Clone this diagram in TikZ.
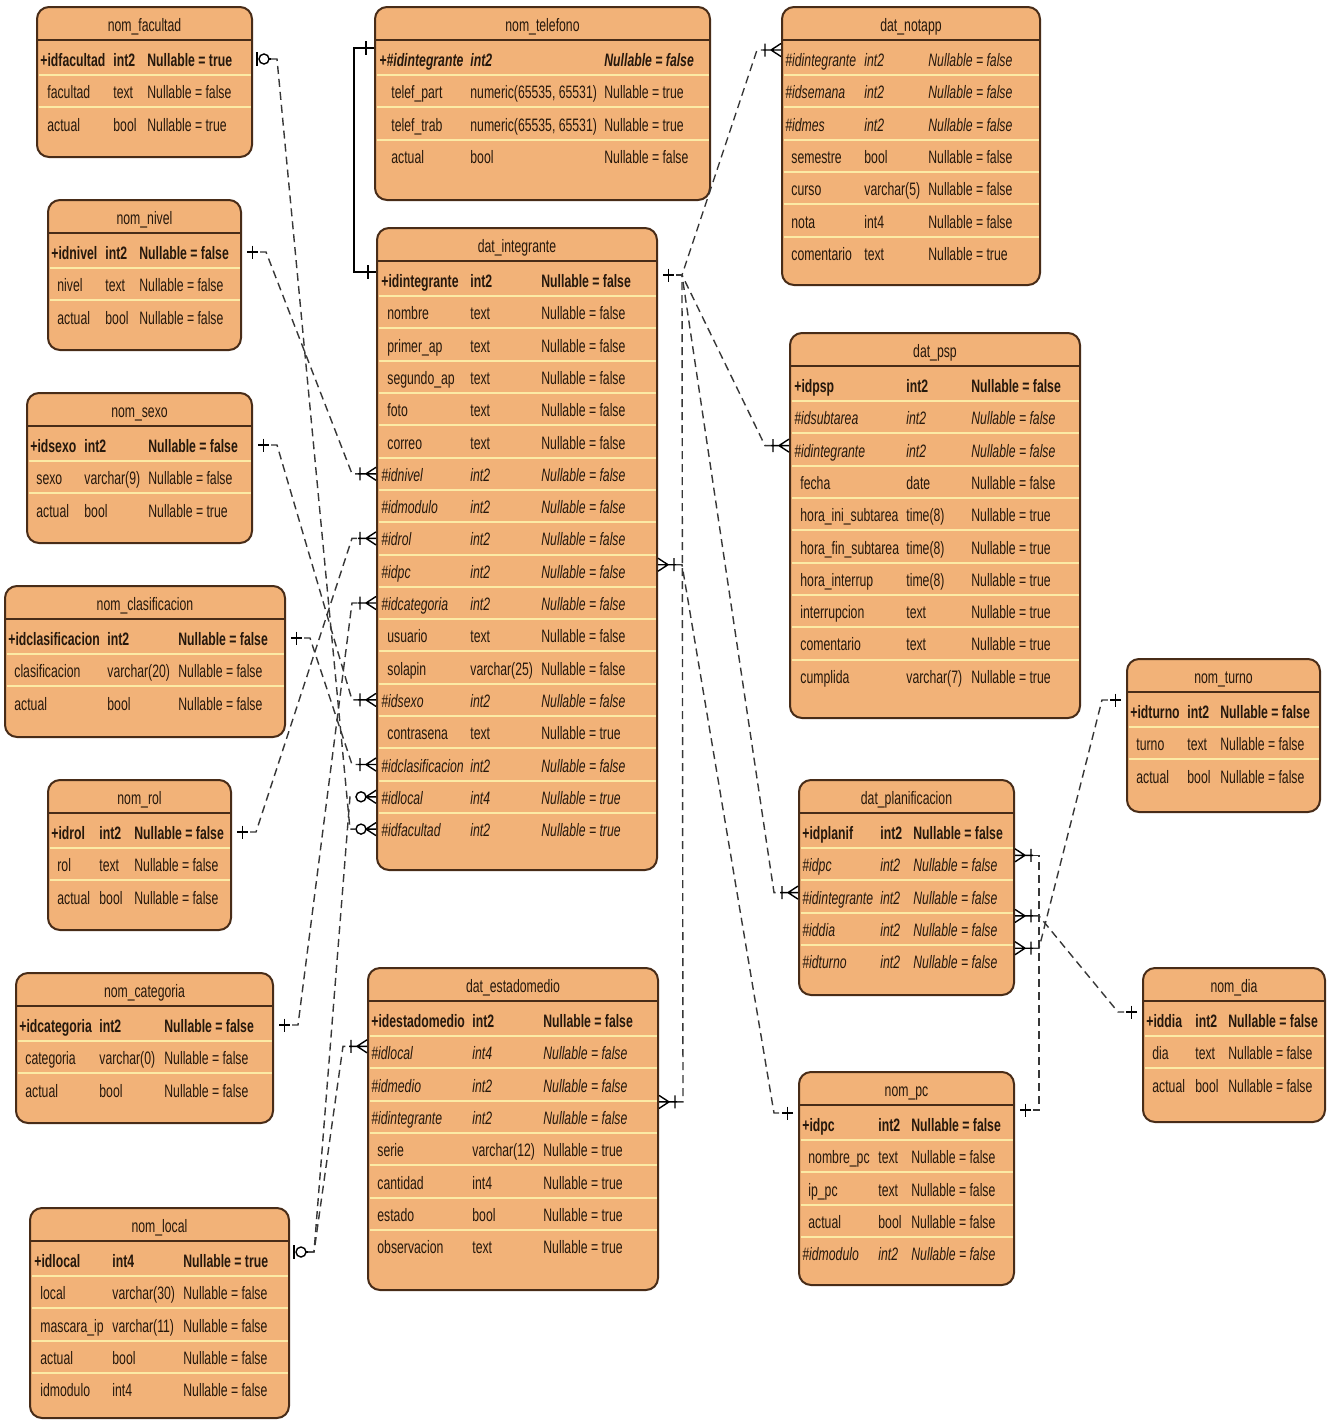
\documentclass[tikz,border=0pt]{standalone}
\usepackage{fontspec}
\setmainfont{Liberation Sans}[FakeStretch=0.68]
\usetikzlibrary{calc,fit}

\definecolor{relleno}{RGB}{242,178,120}
\definecolor{borde}{RGB}{72,44,24}
\definecolor{lineas}{RGB}{252,234,165}
\definecolor{letra}{RGB}{38,24,12}
\definecolor{gris}{RGB}{55,55,55}

% caja de tabla: nombre, x0, y0, x1, y1, titulo, filas
\newcommand{\tabla}[7]{%
  \path (#2,#3) coordinate (#1-nw) (#4,#5) coordinate (#1-se);
  \node[tabla,fit=(#1-nw)(#1-se)] (#1) {};
  \node[titulo] (#1-tit) at ({(#2+#4)/2},{#3+24}) {#6};
  \draw[cab] (#2,{#3+33}) -- (#4,{#3+33});
  \foreach \i in {2,...,#7}
    \draw[sep] ({#2+1.5},{#3+35.85+32.3*(\i-1)}) -- ({#4-1.5},{#3+35.85+32.3*(\i-1)});
  \def\tb{#1}\def\yt{#3}}
% fila: [sangria], estilo, indice, nombre, tipo, nullable
\newcommand{\fila}[6][0]{%
  \coordinate (\tb-r#3) at (0,{\yt+52+32.3*(#3-1)});
  \node[#2] (\tb-#3a) at ({\colA+#1},{\yt+59.5+32.3*(#3-1)}) {#4};
  \node[#2] (\tb-#3b) at (\colB,{\yt+59.5+32.3*(#3-1)}) {#5};
  \node[#2] (\tb-#3c) at (\colC,{\yt+59.5+32.3*(#3-1)}) {#6};}
% enlace discontinuo entre dos extremos
\newcommand{\enlace}[4]{%
  \draw[rel] ($(#1)+(#2,0)$) -- ++({6*sign(#2)},0) -- ($(#3)+({#4+6*sign(#4)},0)$) -- ($(#3)+(#4,0)$);}

\begin{document}
\begin{tikzpicture}[x=0.5pt,y=-0.5pt,
  tabla/.style={draw=borde,fill=relleno,line width=1pt,rounded corners=6pt,inner sep=0pt},
  cab/.style={draw=borde,line width=1pt},
  sep/.style={draw=lineas,line width=1pt},
  titulo/.style={font=\fontsize{9}{10}\selectfont,text=letra,inner sep=0pt,anchor=base},
  campo/.style={font=\fontsize{9}{10}\selectfont,text=letra,inner sep=0pt,anchor=base west},
  clave/.style={campo,font=\fontsize{9}{10}\selectfont\bfseries},
  ajena/.style={campo,font=\fontsize{9}{10}\selectfont\itshape},
  clajena/.style={campo,font=\fontsize{9}{10}\selectfont\bfseries\itshape},
  rel/.style={draw=gris,line width=0.7pt,dash pattern=on 4pt off 2.5pt},
  marca/.style={draw=black,line width=0.7pt},
  uno/.pic={\draw[marca] (5,0) -- (16,0) (10.5,-6.5) -- (10.5,6.5);},
  ceroouno/.pic={\draw[marca] (4,-7) -- (4,7) (16,0) -- (18,0); \draw[marca] (11,0) circle[radius=2.5pt];},
  muchos/.pic={\draw[marca] (0,-6.5) -- (10,0) -- (0,6.5) (0,0) -- (18,0) (16,-6.5) -- (16,6.5);},
  ceromuchos/.pic={\draw[marca] (0,-6.5) -- (10,0) -- (0,6.5) (0,0) -- (10,0); \draw[marca] (15,0) circle[radius=2.5pt];}]
\fill[white] (0,0) rectangle (1333,1420);
\useasboundingbox (0,0) rectangle (1333,1420);

% tablas nom_ de la izquierda
\tabla{facultad}{37}{7}{252}{157}{nom\_facultad}{3}
\def\colA{40}\def\colB{113}\def\colC{147}
\fila{clave}{1}{+idfacultad}{int2}{Nullable = true}
\fila[7]{campo}{2}{facultad}{text}{Nullable = false}
\fila[7]{campo}{3}{actual}{bool}{Nullable = true}

\tabla{nivel}{48}{200}{241}{350}{nom\_nivel}{3}
\def\colA{51}\def\colB{105}\def\colC{139}
\fila{clave}{1}{+idnivel}{int2}{Nullable = false}
\fila[6]{campo}{2}{nivel}{text}{Nullable = false}
\fila[6]{campo}{3}{actual}{bool}{Nullable = false}

\tabla{sexo}{27}{393}{252}{543}{nom\_sexo}{3}
\def\colA{30}\def\colB{84}\def\colC{148}
\fila{clave}{1}{+idsexo}{int2}{Nullable = false}
\fila[6]{campo}{2}{sexo}{varchar(9)}{Nullable = false}
\fila[6]{campo}{3}{actual}{bool}{Nullable = true}

\tabla{clasificacion}{5}{586}{285}{737}{nom\_clasificacion}{3}
\def\colA{8}\def\colB{107}\def\colC{178}
\fila{clave}{1}{+idclasificacion}{int2}{Nullable = false}
\fila[6]{campo}{2}{clasificacion}{varchar(20)}{Nullable = false}
\fila[6]{campo}{3}{actual}{bool}{Nullable = false}

\tabla{rol}{48}{780}{231}{930}{nom\_rol}{3}
\def\colA{51}\def\colB{99}\def\colC{134}
\fila{clave}{1}{+idrol}{int2}{Nullable = false}
\fila[6]{campo}{2}{rol}{text}{Nullable = false}
\fila[6]{campo}{3}{actual}{bool}{Nullable = false}

\tabla{categoria}{16}{973}{273}{1123}{nom\_categoria}{3}
\def\colA{19}\def\colB{99}\def\colC{164}
\fila{clave}{1}{+idcategoria}{int2}{Nullable = false}
\fila[6]{campo}{2}{categoria}{varchar(0)}{Nullable = false}
\fila[6]{campo}{3}{actual}{bool}{Nullable = false}

\tabla{local}{30}{1208}{289}{1418}{nom\_local}{5}
\def\colA{34}\def\colB{112}\def\colC{183}
\fila{clave}{1}{+idlocal}{int4}{Nullable = true}
\fila[6]{campo}{2}{local}{varchar(30)}{Nullable = false}
\fila[6]{campo}{3}{mascara\_ip}{varchar(11)}{Nullable = false}
\fila[6]{campo}{4}{actual}{bool}{Nullable = false}
\fila[6]{campo}{5}{idmodulo}{int4}{Nullable = false}

% columna central
\tabla{telefono}{375}{7}{710}{200}{nom\_telefono}{4}
\def\colA{379}\def\colB{470}\def\colC{604}
\fila{clajena}{1}{+\#idintegrante}{int2}{Nullable = false}
\fila[12]{campo}{2}{telef\_part}{numeric(65535, 65531)}{Nullable = true}
\fila[12]{campo}{3}{telef\_trab}{numeric(65535, 65531)}{Nullable = true}
\fila[12]{campo}{4}{actual}{bool}{Nullable = false}

\tabla{integrante}{377}{228}{657}{870}{dat\_integrante}{18}
\def\colA{381}\def\colB{470}\def\colC{541}
\fila{clave}{1}{+idintegrante}{int2}{Nullable = false}
\fila[6]{campo}{2}{nombre}{text}{Nullable = false}
\fila[6]{campo}{3}{primer\_ap}{text}{Nullable = false}
\fila[6]{campo}{4}{segundo\_ap}{text}{Nullable = false}
\fila[6]{campo}{5}{foto}{text}{Nullable = false}
\fila[6]{campo}{6}{correo}{text}{Nullable = false}
\fila{ajena}{7}{\#idnivel}{int2}{Nullable = false}
\fila{ajena}{8}{\#idmodulo}{int2}{Nullable = false}
\fila{ajena}{9}{\#idrol}{int2}{Nullable = false}
\fila{ajena}{10}{\#idpc}{int2}{Nullable = false}
\fila{ajena}{11}{\#idcategoria}{int2}{Nullable = false}
\fila[6]{campo}{12}{usuario}{text}{Nullable = false}
\fila[6]{campo}{13}{solapin}{varchar(25)}{Nullable = false}
\fila{ajena}{14}{\#idsexo}{int2}{Nullable = false}
\fila[6]{campo}{15}{contrasena}{text}{Nullable = true}
\fila{ajena}{16}{\#idclasificacion}{int2}{Nullable = false}
\fila{ajena}{17}{\#idlocal}{int4}{Nullable = true}
\fila{ajena}{18}{\#idfacultad}{int2}{Nullable = true}

\tabla{estadomedio}{368}{968}{658}{1290}{dat\_estadomedio}{8}
\def\colA{371}\def\colB{472}\def\colC{543}
\fila{clave}{1}{+idestadomedio}{int2}{Nullable = false}
\fila{ajena}{2}{\#idlocal}{int4}{Nullable = false}
\fila{ajena}{3}{\#idmedio}{int2}{Nullable = false}
\fila{ajena}{4}{\#idintegrante}{int2}{Nullable = false}
\fila[6]{campo}{5}{serie}{varchar(12)}{Nullable = true}
\fila[6]{campo}{6}{cantidad}{int4}{Nullable = true}
\fila[6]{campo}{7}{estado}{bool}{Nullable = true}
\fila[6]{campo}{8}{observacion}{text}{Nullable = true}

% lado derecho
\tabla{notapp}{782}{7}{1040}{285}{dat\_notapp}{7}
\def\colA{785}\def\colB{864}\def\colC{928}
\fila{ajena}{1}{\#idintegrante}{int2}{Nullable = false}
\fila{ajena}{2}{\#idsemana}{int2}{Nullable = false}
\fila{ajena}{3}{\#idmes}{int2}{Nullable = false}
\fila[6]{campo}{4}{semestre}{bool}{Nullable = false}
\fila[6]{campo}{5}{curso}{varchar(5)}{Nullable = false}
\fila[6]{campo}{6}{nota}{int4}{Nullable = false}
\fila[6]{campo}{7}{comentario}{text}{Nullable = true}

\tabla{psp}{790}{333}{1080}{718}{dat\_psp}{10}
\def\colA{794}\def\colB{906}\def\colC{971}
\fila{clave}{1}{+idpsp}{int2}{Nullable = false}
\fila{ajena}{2}{\#idsubtarea}{int2}{Nullable = false}
\fila{ajena}{3}{\#idintegrante}{int2}{Nullable = false}
\fila[6]{campo}{4}{fecha}{date}{Nullable = false}
\fila[6]{campo}{5}{hora\_ini\_subtarea}{time(8)}{Nullable = true}
\fila[6]{campo}{6}{hora\_fin\_subtarea}{time(8)}{Nullable = true}
\fila[6]{campo}{7}{hora\_interrup}{time(8)}{Nullable = true}
\fila[6]{campo}{8}{interrupcion}{text}{Nullable = true}
\fila[6]{campo}{9}{comentario}{text}{Nullable = true}
\fila[6]{campo}{10}{cumplida}{varchar(7)}{Nullable = true}

\tabla{planif}{799}{780}{1014}{995}{dat\_planificacion}{5}
\def\colA{802}\def\colB{880}\def\colC{913}
\fila{clave}{1}{+idplanif}{int2}{Nullable = false}
\fila{ajena}{2}{\#idpc}{int2}{Nullable = false}
\fila{ajena}{3}{\#idintegrante}{int2}{Nullable = false}
\fila{ajena}{4}{\#iddia}{int2}{Nullable = false}
\fila{ajena}{5}{\#idturno}{int2}{Nullable = false}

\tabla{pc}{799}{1072}{1014}{1285}{nom\_pc}{5}
\def\colA{802}\def\colB{878}\def\colC{911}
\fila{clave}{1}{+idpc}{int2}{Nullable = false}
\fila[6]{campo}{2}{nombre\_pc}{text}{Nullable = false}
\fila[6]{campo}{3}{ip\_pc}{text}{Nullable = false}
\fila[6]{campo}{4}{actual}{bool}{Nullable = false}
\fila{ajena}{5}{\#idmodulo}{int2}{Nullable = false}

\tabla{turno}{1127}{659}{1320}{812}{nom\_turno}{3}
\def\colA{1130}\def\colB{1187}\def\colC{1220}
\fila{clave}{1}{+idturno}{int2}{Nullable = false}
\fila[6]{campo}{2}{turno}{text}{Nullable = false}
\fila[6]{campo}{3}{actual}{bool}{Nullable = false}

\tabla{dia}{1143}{968}{1325}{1122}{nom\_dia}{3}
\def\colA{1146}\def\colB{1195}\def\colC{1228}
\fila{clave}{1}{+iddia}{int2}{Nullable = false}
\fila[6]{campo}{2}{dia}{text}{Nullable = false}
\fila[6]{campo}{3}{actual}{bool}{Nullable = false}

% relaciones de la izquierda
\path (facultad.east |- facultad-r1) coordinate (fac-pk) pic {ceroouno};
\path (integrante.west |- integrante-r18) coordinate (int-fac) pic[xscale=-1] {ceromuchos};
\enlace{fac-pk}{18}{int-fac}{-20}
\path (nivel.east |- nivel-r1) coordinate (niv-pk) pic {uno};
\path (integrante.west |- integrante-r7) coordinate (int-niv) pic[xscale=-1] {muchos};
\enlace{niv-pk}{18}{int-niv}{-18}
\path (sexo.east |- sexo-r1) coordinate (sex-pk) pic {uno};
\path (integrante.west |- integrante-r14) coordinate (int-sex) pic[xscale=-1] {muchos};
\enlace{sex-pk}{18}{int-sex}{-18}
\path (clasificacion.east |- clasificacion-r1) coordinate (cla-pk) pic {uno};
\path (integrante.west |- integrante-r16) coordinate (int-cla) pic[xscale=-1] {muchos};
\enlace{cla-pk}{18}{int-cla}{-18}
\path (rol.east |- rol-r1) coordinate (rol-pk) pic {uno};
\path (integrante.west |- integrante-r9) coordinate (int-rol) pic[xscale=-1] {muchos};
\enlace{rol-pk}{18}{int-rol}{-18}
\path (categoria.east |- categoria-r1) coordinate (cat-pk) pic {uno};
\path (integrante.west |- integrante-r11) coordinate (int-cat) pic[xscale=-1] {muchos};
\enlace{cat-pk}{18}{int-cat}{-18}
\path ($(local.east |- local-r1)+(0,-8)$) coordinate (loc-pk) pic {ceroouno};
\path (integrante.west |- integrante-r17) coordinate (int-loc) pic[xscale=-1] {ceromuchos};
\path ($(estadomedio.west |- estadomedio-r2)+(0,-6)$) coordinate (est-loc) pic[xscale=-1] {muchos};
\enlace{loc-pk}{18}{int-loc}{-20}
\enlace{loc-pk}{18}{est-loc}{-18}
\coordinate (tel-int) at ($(telefono.west |- telefono-r1)+(0,-11)$);
\coordinate (int-tel) at ($(integrante.west |- integrante-r1)+(0,-8)$);
\draw[marca,line width=0.6pt] (tel-int) -- ++(-20,0) |- (int-tel);
\draw[marca] ($(tel-int)+(-8,-7)$) -- ++(0,14) ($(int-tel)+(-8,-7)$) -- ++(0,14);

% relaciones de la derecha
\path ($(integrante.east |- integrante-r1)+(0,-5)$) coordinate (int-pk) pic {uno};
\path ($(notapp.west |- notapp-r1)+(0,-9)$) coordinate (nta-int) pic[xscale=-1] {muchos};
\path ($(psp.west |- psp-r3)+(0,-4)$) coordinate (psp-int) pic[xscale=-1] {muchos};
\path ($(planif.west |- planif-r3)+(0,-4)$) coordinate (pla-int) pic[xscale=-1] {muchos};
\path ($(estadomedio.east |- estadomedio-r4)+(0,-15)$) coordinate (est-int) pic {muchos};
\enlace{int-pk}{18}{nta-int}{-18}
\enlace{int-pk}{18}{psp-int}{-18}
\enlace{int-pk}{18}{pla-int}{-18}
\enlace{int-pk}{18}{est-int}{18}
\path ($(integrante.east |- integrante-r10)+(0,-6)$) coordinate (int-pc) pic {muchos};
\path ($(pc.west |- pc-r1)+(0,-11)$) coordinate (pc-pk) pic[xscale=-1] {uno};
\enlace{int-pc}{18}{pc-pk}{-18}
\path ($(planif.east |- planif-r2)+(0,-9)$) coordinate (pla-pc) pic {muchos};
\path ($(pc.east |- pc-r1)+(0,-14)$) coordinate (pc-pk2) pic {uno};
\draw[rel] ($(pla-pc)+(18,0)$) -- ++(6,0) |- ($(pc-pk2)+(18,0)$);
\path ($(planif.east |- planif-r4)+(0,-13)$) coordinate (pla-dia) pic {muchos};
\path ($(dia.west |- dia-r1)+(0,-8)$) coordinate (dia-pk) pic[xscale=-1] {uno};
\enlace{pla-dia}{18}{dia-pk}{-18}
\path ($(planif.east |- planif-r5)+(0,-13)$) coordinate (pla-tur) pic {muchos};
\path ($(turno.west |- turno-r1)+(0,-11)$) coordinate (tur-pk) pic[xscale=-1] {uno};
\enlace{pla-tur}{18}{tur-pk}{-18}
\end{tikzpicture}
\end{document}
